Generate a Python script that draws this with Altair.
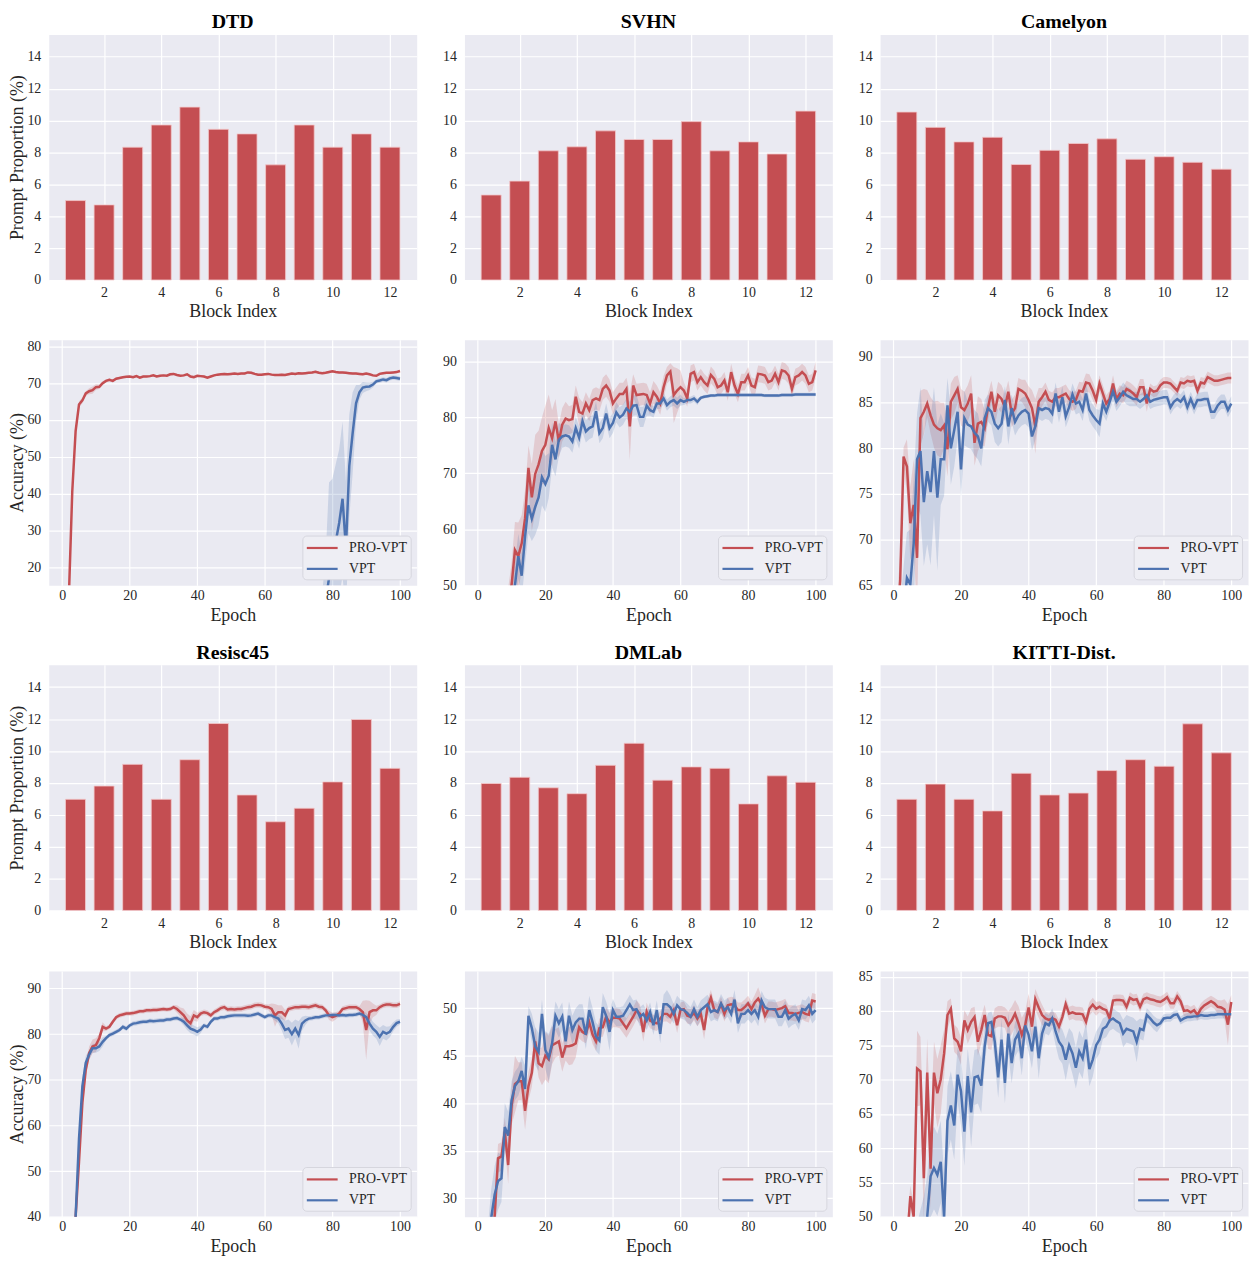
import altair as alt
import pandas as pd

FONT = "Liberation Serif"
RED = "#C44E52"
BLUE = "#4C72B0"
BG = "#EAEAF2"
TXT = "#262626"
W = 370
H = 247

# ---------------- data ----------------
BLOCKS = [1, 2, 3, 4, 5, 6, 7, 8, 9, 10, 11, 12]
BLOCK_TICKS = [2, 4, 6, 8, 10, 12]
BAR_YTICKS = [0, 2, 4, 6, 8, 10, 12, 14]
EPOCHS = list(range(1, 101))
EPOCH_TICKS = [0, 20, 40, 60, 80, 100]
METHODS = ["PRO-VPT", "VPT"]

DTD_BARS = [4.98, 4.71, 8.33, 9.72, 10.84, 9.45, 9.16, 7.22, 9.72, 8.33, 9.16, 8.33]
SVHN_BARS = [5.33, 6.2, 8.1, 8.35, 9.35, 8.81, 8.81, 9.93, 8.1, 8.66, 7.9, 10.59]
CAMELYON_BARS = [10.53, 9.57, 8.66, 8.95, 7.24, 8.13, 8.56, 8.85, 7.57, 7.73, 7.38, 6.95]
RESISC_BARS = [6.97, 7.8, 9.16, 6.97, 9.45, 11.72, 7.24, 5.56, 6.41, 8.06, 11.97, 8.91]
DMLAB_BARS = [7.96, 8.35, 7.69, 7.32, 9.1, 10.48, 8.17, 9.0, 8.91, 6.68, 8.44, 8.04]
KITTI_BARS = [6.97, 7.92, 6.97, 6.24, 8.6, 7.24, 7.36, 8.77, 9.45, 9.04, 11.7, 9.88]

DTD_PRO = [
    3.0, 12.0, 40.5, 57.0, 64.2, 65.3, 67.2, 67.8, 68.1, 68.9,
    69.0, 70.0, 70.6, 70.9, 70.6, 71.2, 71.4, 71.6, 71.7, 71.8,
    71.6, 71.9, 71.5, 71.8, 71.8, 71.9, 72.1, 71.8, 72.0, 72.1,
    72.0, 72.4, 72.5, 72.2, 72.0, 72.1, 72.4, 71.8, 71.6, 72.0,
    71.9, 71.8, 71.5, 71.8, 72.1, 72.3, 72.4, 72.5, 72.4, 72.5,
    72.6, 72.5, 72.6, 72.6, 72.9, 72.8, 72.5, 72.3, 72.3, 72.4,
    72.5, 72.3, 72.2, 72.2, 72.3, 72.2, 72.4, 72.6, 72.5, 72.7,
    72.6, 72.7, 72.8, 72.9, 73.1, 72.8, 72.7, 72.8, 73.0, 73.2,
    73.0, 72.9, 72.9, 72.8, 72.7, 72.6, 72.6, 72.5, 72.4, 72.6,
    72.4, 72.1, 72.0, 72.5, 72.7, 72.8, 72.8, 72.9, 73.0, 73.3]
DTD_PRO_CI = [
    1.0, 1.0, 1.0, 0.8, 0.8, 0.8, 0.6, 0.8, 1.0, 0.8,
    0.6, 0.5, 0.4, 0.4, 0.4, 0.3, 0.3, 0.3, 0.3, 0.3,
    0.3, 0.3, 0.3, 0.3, 0.3, 0.3, 0.3, 0.3, 0.3, 0.3,
    0.3, 0.3, 0.3, 0.3, 0.3, 0.3, 0.3, 0.4, 0.3, 0.3,
    0.3, 0.3, 0.3, 0.3, 0.3, 0.3, 0.3, 0.3, 0.3, 0.3,
    0.3, 0.3, 0.3, 0.3, 0.3, 0.3, 0.3, 0.3, 0.3, 0.3,
    0.3, 0.3, 0.3, 0.3, 0.3, 0.3, 0.3, 0.3, 0.3, 0.3,
    0.3, 0.3, 0.3, 0.3, 0.3, 0.3, 0.3, 0.3, 0.3, 0.3,
    0.3, 0.3, 0.3, 0.3, 0.3, 0.3, 0.3, 0.3, 0.3, 0.3,
    0.3, 0.3, 0.3, 0.3, 0.3, 0.3, 0.3, 0.3, 0.3, 0.3]
DTD_VPT = [
    5.1, 5.3, 5.2, 5.6, 5.4, 5.8, 5.5, 5.9, 6.1, 5.7,
    6.0, 6.2, 5.9, 6.3, 6.1, 6.4, 6.2, 6.0, 6.5, 6.3,
    6.6, 6.4, 6.7, 6.5, 6.3, 6.8, 6.6, 6.9, 6.7, 7.0,
    6.8, 7.1, 6.9, 7.2, 7.0, 6.8, 7.3, 7.1, 7.4, 7.2,
    7.0, 7.5, 7.3, 7.6, 7.4, 7.2, 7.7, 7.5, 7.8, 7.6,
    7.4, 7.9, 7.7, 8.0, 7.8, 7.6, 8.1, 7.9, 8.2, 8.0,
    7.8, 8.3, 8.1, 8.4, 8.2, 8.0, 8.5, 8.3, 8.6, 8.4,
    8.2, 8.7, 8.5, 8.8, 8.6, 8.9, 9.1, 11.0, 17.0, 22.0,
    27.0, 32.0, 38.6, 25.2, 47.5, 56.5, 64.5, 67.5, 68.8, 69.0,
    69.1, 69.6, 70.5, 70.7, 71.0, 70.8, 71.3, 71.5, 71.4, 71.2]
DTD_VPT_CI = [
    4.0, 4.0, 4.0, 4.0, 4.0, 4.0, 4.0, 4.0, 4.0, 4.0,
    4.0, 4.0, 4.0, 4.0, 4.0, 4.0, 4.0, 4.0, 4.0, 4.0,
    4.0, 4.0, 4.0, 4.0, 4.0, 4.0, 4.0, 4.0, 4.0, 4.0,
    4.0, 4.0, 4.0, 4.0, 4.0, 4.0, 4.0, 4.0, 4.0, 4.0,
    4.0, 4.0, 4.0, 4.0, 4.0, 4.0, 4.0, 4.0, 4.0, 4.0,
    4.0, 4.0, 4.0, 4.0, 4.0, 4.0, 4.0, 4.0, 4.0, 4.0,
    4.0, 4.0, 4.0, 4.0, 4.0, 4.0, 4.0, 4.0, 4.0, 4.0,
    4.0, 4.0, 4.0, 4.0, 4.0, 4.0, 4.0, 12.0, 26.0, 22.0,
    21.0, 20.0, 21.0, 18.0, 14.0, 11.0, 5.0, 2.0, 1.5, 1.2,
    1.0, 0.8, 0.6, 0.6, 0.6, 0.6, 0.6, 0.6, 0.6, 0.6]

SVHN_PRO = [
    30.0, 32.0, 34.0, 36.0, 38.0, 40.0, 42.0, 44.0, 46.5, 50.0,
    56.3, 55.2, 57.5, 62.0, 71.0, 65.7, 69.9, 71.6, 74.0, 75.1,
    78.1, 76.3, 79.3, 75.7, 78.7, 79.8, 79.5, 79.7, 83.7, 81.0,
    80.7, 82.5, 81.3, 83.1, 83.4, 83.1, 85.1, 85.7, 84.8, 82.5,
    83.4, 84.2, 84.2, 85.1, 78.4, 85.7, 84.0, 84.1, 84.2, 84.0,
    82.5, 84.5, 83.7, 82.5, 85.4, 87.5, 88.2, 84.0, 84.8, 85.4,
    84.8, 83.4, 87.8, 88.1, 86.3, 87.2, 86.3, 85.7, 87.6, 86.9,
    85.4, 85.7, 86.6, 84.5, 88.1, 85.7, 84.2, 86.3, 86.3, 87.5,
    85.7, 85.4, 87.8, 87.7, 87.5, 86.3, 86.6, 87.8, 86.3, 88.4,
    88.2, 87.5, 85.1, 87.2, 87.5, 88.1, 87.5, 86.0, 86.3, 88.4]
SVHN_PRO_CI = [
    3.0, 3.0, 3.0, 3.0, 3.0, 3.0, 3.0, 3.0, 3.0, 4.0,
    5.0, 6.0, 5.0, 5.0, 4.0, 6.0, 7.0, 6.0, 6.0, 7.0,
    6.0, 5.0, 4.0, 3.0, 3.0, 3.0, 2.5, 2.5, 2.0, 2.5,
    2.0, 2.0, 2.0, 2.0, 2.0, 2.0, 2.0, 2.0, 2.0, 2.0,
    2.0, 2.0, 2.0, 2.0, 6.0, 2.0, 2.0, 2.0, 2.0, 2.0,
    2.0, 2.0, 2.0, 2.0, 2.0, 1.5, 1.5, 5.0, 4.0, 3.0,
    1.5, 1.5, 1.5, 1.5, 1.5, 1.5, 1.5, 1.5, 1.5, 1.5,
    1.5, 1.5, 1.5, 1.5, 1.5, 1.5, 1.5, 1.5, 1.5, 1.5,
    1.5, 1.5, 1.5, 1.5, 1.5, 1.5, 1.5, 1.5, 1.5, 1.5,
    1.5, 1.5, 1.5, 1.5, 1.5, 1.5, 1.5, 1.5, 1.5, 1.5]
SVHN_VPT = [
    30.0, 32.0, 34.0, 36.0, 38.0, 40.0, 42.0, 44.0, 46.0, 48.0,
    50.0, 55.2, 51.7, 58.7, 64.3, 61.9, 64.0, 65.7, 69.3, 68.1,
    69.6, 75.1, 72.5, 76.0, 76.6, 76.8, 76.6, 75.7, 78.1, 76.4,
    79.3, 77.5, 78.1, 78.4, 81.1, 77.2, 78.1, 80.7, 78.1, 79.0,
    80.9, 80.0, 80.5, 81.6, 81.0, 82.1, 82.2, 80.1, 80.1, 82.1,
    81.3, 81.0, 82.5, 82.5, 83.4, 82.2, 82.8, 83.1, 82.5, 83.1,
    82.8, 83.1, 83.1, 83.4, 82.8, 83.5, 83.7, 83.8, 83.9, 83.9,
    84.0, 84.0, 84.0, 84.0, 84.0, 84.0, 84.0, 84.0, 84.0, 84.0,
    84.0, 84.0, 84.0, 84.0, 83.9, 83.9, 83.9, 83.9, 83.9, 84.0,
    84.0, 84.0, 84.0, 84.1, 84.1, 84.1, 84.1, 84.1, 84.1, 84.1]
SVHN_VPT_CI = [
    3.0, 3.0, 3.0, 3.0, 3.0, 3.0, 3.0, 3.0, 3.0, 3.0,
    4.0, 4.0, 4.0, 5.0, 5.0, 4.0, 5.0, 5.0, 5.0, 5.0,
    4.0, 4.0, 3.0, 3.0, 2.0, 2.0, 2.0, 2.0, 2.0, 2.0,
    2.0, 2.0, 2.0, 2.0, 1.8, 1.8, 1.8, 1.8, 1.8, 1.8,
    1.8, 1.8, 1.8, 1.8, 1.8, 1.8, 1.8, 1.8, 1.8, 1.8,
    1.0, 1.0, 1.0, 1.0, 1.0, 1.0, 1.0, 1.0, 1.0, 1.0,
    0.6, 0.6, 0.6, 0.6, 0.6, 0.3, 0.3, 0.3, 0.3, 0.3,
    0.3, 0.3, 0.3, 0.3, 0.3, 0.3, 0.3, 0.3, 0.3, 0.3,
    0.3, 0.3, 0.3, 0.3, 0.3, 0.3, 0.3, 0.3, 0.3, 0.3,
    0.3, 0.3, 0.3, 0.3, 0.3, 0.3, 0.3, 0.3, 0.3, 0.3]

CAM_PRO = [
    60.0, 65.5, 79.1, 78.0, 71.8, 73.8, 68.0, 83.3, 84.0, 84.9,
    83.6, 82.6, 82.2, 82.0, 82.5, 79.9, 85.1, 85.8, 86.5, 84.5,
    84.2, 84.9, 86.0, 80.6, 82.7, 82.9, 82.2, 84.5, 86.2, 84.0,
    85.8, 85.4, 84.5, 86.2, 83.8, 84.4, 86.5, 86.3, 86.0, 85.3,
    84.4, 82.4, 85.1, 85.6, 86.2, 85.3, 85.1, 85.6, 85.6, 85.8,
    86.0, 85.4, 85.1, 85.3, 86.3, 86.2, 87.2, 87.1, 86.3, 85.3,
    87.1, 86.0, 84.9, 85.4, 87.1, 85.4, 86.0, 85.8, 86.5, 86.3,
    86.0, 85.6, 86.7, 86.7, 84.9, 86.5, 86.2, 86.3, 86.9, 87.2,
    87.2, 87.1, 86.7, 86.3, 87.2, 87.1, 87.4, 87.3, 87.4, 86.3,
    87.2, 87.1, 87.8, 87.6, 87.4, 87.4, 87.5, 87.6, 87.7, 87.7]
CAM_PRO_CI = [
    3.0, 3.0, 1.0, 3.0, 4.0, 5.0, 6.0, 3.0, 2.5, 1.5,
    2.0, 2.5, 3.0, 3.0, 2.5, 3.0, 2.0, 2.0, 1.5, 2.0,
    2.0, 2.0, 2.0, 2.5, 3.0, 2.5, 2.0, 1.5, 1.2, 1.5,
    1.5, 1.5, 1.5, 1.2, 1.5, 1.5, 1.2, 1.2, 1.5, 1.5,
    2.0, 3.0, 1.5, 1.0, 1.0, 1.0, 1.0, 1.0, 1.0, 1.0,
    1.0, 1.0, 1.0, 1.0, 1.0, 1.0, 1.0, 1.0, 1.0, 1.0,
    0.9, 0.9, 0.9, 0.9, 0.9, 0.9, 0.9, 0.9, 0.9, 0.9,
    0.9, 0.9, 0.9, 0.9, 0.9, 0.6, 0.6, 0.6, 0.6, 0.6,
    0.6, 0.6, 0.6, 0.6, 0.6, 0.6, 0.6, 0.6, 0.6, 0.6,
    0.6, 0.6, 0.6, 0.6, 0.6, 0.6, 0.6, 0.6, 0.6, 0.6]
CAM_VPT = [
    55.0, 58.0, 62.0, 65.8, 65.1, 69.6, 78.8, 79.7, 74.1, 77.5,
    75.2, 79.7, 74.6, 78.8, 78.8, 84.7, 80.0, 82.0, 84.0, 77.7,
    83.3, 82.6, 82.4, 81.7, 81.3, 80.0, 83.3, 84.4, 84.0, 82.7,
    82.2, 82.7, 85.3, 82.4, 84.4, 82.9, 83.6, 84.0, 84.2, 83.8,
    81.3, 82.4, 84.4, 84.2, 84.4, 84.3, 83.8, 86.0, 84.0, 85.6,
    83.5, 84.5, 85.9, 84.9, 85.1, 84.2, 86.0, 84.2, 83.6, 83.1,
    82.7, 84.9, 84.0, 85.1, 86.2, 85.1, 85.6, 86.2, 85.8, 85.6,
    85.4, 85.4, 85.1, 85.4, 85.8, 85.1, 85.3, 85.4, 85.5, 85.6,
    85.6, 84.5, 85.1, 85.4, 85.1, 85.6, 84.5, 85.4, 84.5, 85.3,
    85.3, 85.4, 85.4, 84.0, 84.0, 84.7, 85.1, 85.1, 84.2, 84.9]
CAM_VPT_CI = [
    5.0, 5.0, 5.0, 5.0, 6.0, 7.0, 5.0, 7.0, 7.0, 8.0,
    8.0, 7.0, 8.0, 5.0, 4.0, 3.0, 4.0, 4.0, 3.0, 3.0,
    3.0, 2.5, 2.5, 2.5, 2.5, 2.0, 2.0, 1.5, 1.5, 2.0,
    2.0, 2.0, 1.5, 2.0, 1.5, 1.5, 1.5, 1.5, 1.5, 1.5,
    1.5, 1.5, 1.2, 1.2, 1.2, 1.2, 1.2, 1.2, 1.2, 1.2,
    1.2, 1.2, 1.2, 1.2, 1.2, 1.2, 1.2, 1.2, 1.2, 1.2,
    1.5, 1.2, 1.0, 1.0, 1.0, 1.0, 1.0, 1.0, 1.0, 1.0,
    0.8, 0.8, 0.8, 0.8, 0.8, 0.8, 0.8, 0.8, 0.8, 0.8,
    0.8, 0.8, 0.8, 0.8, 0.8, 0.8, 0.8, 0.8, 0.8, 0.8,
    0.8, 0.8, 0.8, 0.8, 0.8, 0.8, 0.8, 0.8, 0.8, 0.8]

RES_PRO = [
    20.0, 25.0, 32.0, 40.0, 52.0, 65.0, 72.2, 75.8, 77.3, 77.6,
    79.1, 81.6, 81.2, 81.6, 82.7, 83.7, 84.1, 84.3, 84.5, 84.5,
    84.6, 84.8, 85.0, 85.0, 85.2, 85.2, 85.3, 85.3, 85.4, 85.5,
    85.4, 85.5, 85.9, 85.5, 84.8, 84.1, 83.0, 82.4, 84.1, 83.7,
    84.5, 84.8, 84.6, 84.1, 84.8, 85.2, 85.7, 85.9, 85.4, 85.5,
    85.4, 85.5, 85.5, 85.7, 85.9, 86.0, 86.3, 86.4, 86.3, 86.0,
    85.9, 85.5, 84.1, 84.8, 84.8, 84.1, 85.5, 85.7, 85.9, 85.9,
    86.0, 86.0, 85.9, 86.1, 86.3, 86.0, 85.9, 85.2, 84.1, 83.7,
    84.0, 84.5, 85.5, 85.7, 85.9, 85.9, 85.9, 85.5, 84.8, 80.9,
    84.8, 85.2, 85.2, 85.9, 86.3, 86.5, 86.5, 86.3, 86.3, 86.6]
RES_PRO_CI = [
    2.0, 2.0, 2.0, 2.0, 2.0, 2.0, 1.5, 1.5, 1.5, 1.5,
    1.0, 1.0, 0.5, 0.5, 0.5, 0.5, 0.5, 0.5, 0.5, 0.5,
    0.5, 0.5, 0.5, 0.5, 0.5, 0.5, 0.5, 0.5, 0.5, 0.5,
    0.5, 0.5, 0.5, 0.8, 1.0, 1.5, 1.5, 1.5, 1.2, 1.0,
    0.6, 0.6, 0.6, 0.6, 0.6, 0.6, 0.6, 0.6, 0.6, 0.6,
    0.6, 0.6, 0.6, 0.6, 0.6, 0.6, 0.6, 0.6, 0.6, 0.6,
    0.6, 1.2, 2.5, 1.5, 1.5, 1.2, 0.6, 0.6, 0.6, 0.6,
    0.6, 0.6, 0.6, 0.6, 0.6, 0.6, 0.6, 0.6, 1.0, 1.0,
    0.8, 0.6, 0.6, 0.6, 0.6, 0.6, 0.6, 0.6, 2.5, 6.5,
    2.5, 1.5, 1.0, 0.6, 0.6, 0.6, 0.6, 0.6, 0.6, 0.6]
RES_VPT = [
    18.0, 24.0, 31.0, 40.0, 57.1, 68.6, 73.7, 75.5, 76.9, 76.9,
    77.3, 78.3, 79.1, 79.8, 80.1, 80.5, 80.9, 81.6, 81.2, 81.9,
    82.3, 82.4, 82.6, 82.7, 82.7, 82.9, 82.8, 82.9, 83.0, 83.0,
    83.2, 83.2, 83.4, 83.5, 83.2, 82.7, 81.9, 81.2, 80.9, 80.5,
    81.0, 81.9, 81.6, 82.7, 83.4, 83.4, 83.7, 83.7, 83.9, 84.0,
    84.1, 84.1, 84.1, 84.1, 84.0, 84.1, 84.3, 84.5, 84.1, 83.7,
    84.1, 84.1, 83.7, 83.4, 82.3, 80.9, 81.2, 80.0, 81.2, 79.8,
    82.3, 83.0, 83.4, 83.5, 83.7, 83.7, 83.9, 84.1, 84.1, 84.2,
    84.2, 84.1, 84.2, 84.1, 84.2, 84.2, 84.3, 84.5, 84.2, 83.7,
    82.3, 81.2, 80.5, 79.4, 80.5, 80.1, 80.5, 81.6, 82.4, 82.7]
RES_VPT_CI = [
    2.0, 2.0, 2.0, 2.0, 2.0, 2.0, 1.5, 1.0, 1.0, 1.0,
    1.0, 1.0, 0.5, 0.5, 0.5, 0.5, 0.5, 0.5, 0.5, 0.5,
    0.5, 0.5, 0.5, 0.5, 0.5, 0.5, 0.5, 0.5, 0.5, 0.5,
    0.5, 0.5, 0.5, 0.5, 0.5, 0.8, 1.0, 1.0, 1.0, 1.0,
    0.8, 0.5, 0.5, 0.5, 0.5, 0.5, 0.5, 0.5, 0.5, 0.5,
    0.5, 0.5, 0.5, 0.5, 0.5, 0.5, 0.5, 0.5, 0.5, 0.5,
    0.5, 0.5, 0.8, 1.0, 1.5, 2.0, 2.0, 2.5, 2.0, 3.0,
    1.5, 1.0, 0.5, 0.5, 0.5, 0.5, 0.5, 0.5, 0.5, 0.5,
    0.5, 0.5, 0.5, 0.5, 0.5, 0.5, 0.5, 0.5, 0.8, 1.0,
    1.5, 1.5, 1.5, 2.0, 1.5, 1.5, 1.2, 1.0, 0.8, 0.6]

DML_PRO = [
    20.0, 22.0, 24.0, 26.0, 28.1, 34.2, 34.4, 37.0, 33.5, 39.7,
    42.0, 42.3, 42.3, 39.2, 41.8, 43.2, 46.5, 44.2, 43.9, 45.0,
    44.6, 46.1, 46.3, 46.5, 44.8, 46.0, 46.0, 46.1, 46.3, 48.0,
    47.5, 47.3, 48.5, 47.2, 46.5, 47.9, 48.0, 49.1, 48.5, 49.0,
    49.0, 48.9, 48.4, 47.9, 48.5, 49.1, 49.8, 49.4, 47.5, 49.6,
    48.7, 48.5, 48.4, 48.9, 49.4, 49.4, 49.1, 49.8, 48.2, 49.8,
    49.9, 49.2, 49.1, 49.5, 48.9, 49.4, 47.7, 50.1, 51.1, 49.8,
    49.6, 50.4, 49.4, 50.3, 50.4, 50.3, 49.8, 49.8, 50.1, 50.5,
    49.9, 50.6, 51.0, 50.4, 49.2, 49.9, 49.9, 49.8, 49.9, 50.0,
    50.2, 49.5, 49.5, 49.4, 49.5, 49.6, 49.4, 49.3, 50.8, 50.7]
DML_PRO_CI = [
    2.0, 2.0, 2.0, 2.0, 2.0, 1.5, 1.5, 1.5, 2.0, 2.0,
    3.0, 2.0, 2.0, 2.0, 1.5, 1.5, 1.5, 1.5, 2.0, 2.5,
    2.5, 2.0, 1.5, 1.5, 1.5, 1.5, 2.0, 2.0, 1.5, 1.2,
    1.0, 1.0, 1.0, 1.0, 1.0, 1.0, 1.0, 1.0, 1.0, 1.0,
    1.0, 1.0, 1.0, 1.0, 1.0, 1.0, 1.0, 1.0, 1.0, 1.0,
    0.8, 0.8, 0.8, 0.8, 0.8, 0.8, 0.8, 0.8, 0.8, 0.8,
    0.8, 0.8, 0.8, 0.8, 0.8, 0.8, 1.0, 0.8, 0.8, 0.8,
    0.8, 0.8, 0.8, 0.8, 0.8, 0.8, 0.8, 0.8, 0.8, 0.8,
    0.8, 0.8, 1.2, 0.8, 0.8, 0.8, 0.8, 0.8, 0.8, 0.8,
    0.8, 0.8, 0.8, 0.8, 0.8, 0.8, 0.8, 0.8, 0.8, 0.8]
DML_VPT = [
    18.0, 21.0, 24.0, 28.0, 30.4, 31.8, 32.1, 37.5, 36.6, 40.3,
    41.8, 42.3, 43.4, 41.5, 49.2, 47.9, 46.0, 45.4, 49.4, 45.6,
    44.8, 46.3, 49.2, 48.4, 49.1, 46.5, 49.2, 47.7, 48.5, 48.9,
    48.9, 47.2, 49.8, 48.5, 47.0, 46.6, 50.1, 49.2, 47.5, 49.8,
    49.1, 49.1, 49.2, 49.8, 50.4, 49.8, 49.9, 49.1, 49.4, 48.7,
    49.6, 48.2, 49.8, 47.3, 50.4, 50.4, 50.1, 49.4, 50.3, 49.9,
    49.8, 49.5, 49.1, 49.9, 49.1, 49.8, 50.1, 50.4, 49.6, 49.8,
    49.6, 50.5, 49.8, 50.1, 49.4, 50.9, 48.4, 49.4, 49.4, 49.8,
    49.4, 49.8, 49.1, 50.8, 50.1, 49.9, 49.9, 49.9, 49.1, 49.1,
    49.8, 48.9, 49.2, 49.4, 48.7, 49.9, 49.8, 50.3, 49.4, 49.8]
DML_VPT_CI = [
    3.0, 3.0, 3.0, 3.0, 3.0, 3.0, 2.5, 2.5, 2.5, 2.0,
    1.5, 1.5, 1.5, 2.5, 1.0, 1.5, 2.0, 2.0, 1.5, 2.0,
    2.5, 2.0, 1.5, 1.5, 1.5, 1.5, 1.5, 1.5, 1.5, 1.5,
    1.5, 1.5, 1.5, 1.5, 1.5, 1.5, 1.5, 1.5, 2.0, 1.2,
    1.0, 1.0, 1.0, 1.0, 1.0, 1.0, 1.0, 1.0, 1.0, 1.0,
    1.0, 1.0, 1.0, 1.0, 1.0, 1.5, 1.2, 1.0, 1.0, 1.0,
    1.0, 1.0, 1.0, 1.0, 1.0, 1.0, 1.0, 1.0, 1.0, 1.0,
    1.0, 1.0, 1.0, 1.0, 1.0, 1.0, 1.0, 1.0, 1.0, 1.0,
    1.0, 1.0, 1.0, 1.0, 1.0, 1.0, 1.0, 1.0, 1.0, 1.0,
    1.0, 1.0, 1.0, 1.0, 1.0, 1.0, 1.0, 1.0, 1.0, 1.0]

KIT_PRO = [
    38.0, 40.0, 42.0, 46.0, 53.0, 50.0, 71.6, 71.2, 55.6, 71.0,
    57.0, 71.0, 68.0, 70.0, 73.8, 79.4, 80.3, 76.0, 75.5, 74.1,
    78.6, 77.2, 78.4, 79.1, 75.5, 77.2, 79.4, 76.5, 76.3, 78.9,
    79.2, 79.2, 79.0, 77.9, 78.6, 79.6, 78.2, 76.5, 77.9, 80.5,
    77.7, 81.7, 80.5, 79.4, 78.9, 78.7, 78.9, 78.7, 77.7, 79.1,
    81.0, 79.6, 79.8, 79.6, 79.6, 79.5, 78.4, 80.3, 80.9, 80.3,
    80.6, 80.3, 80.1, 78.9, 81.5, 81.6, 81.6, 81.5, 80.6, 81.9,
    81.6, 81.7, 80.6, 81.7, 81.9, 81.7, 81.6, 81.4, 81.3, 81.6,
    82.0, 81.1, 81.1, 82.1, 81.4, 80.0, 80.1, 79.8, 80.1, 79.4,
    80.3, 80.8, 81.1, 81.4, 81.1, 80.6, 80.5, 80.2, 78.0, 81.3]
KIT_PRO_CI = [
    3.0, 3.0, 3.0, 3.0, 1.5, 2.0, 5.5, 5.0, 6.0, 5.0,
    6.0, 4.5, 5.0, 5.0, 3.5, 2.0, 1.5, 2.0, 2.0, 2.0,
    1.5, 2.0, 2.0, 1.5, 2.0, 2.0, 1.5, 2.0, 2.0, 1.5,
    1.5, 1.5, 1.5, 2.0, 2.0, 2.0, 2.5, 2.5, 2.0, 2.0,
    2.0, 1.5, 1.5, 1.5, 1.0, 1.0, 1.0, 1.0, 1.0, 1.0,
    1.0, 1.0, 1.0, 1.0, 1.0, 1.0, 1.0, 1.0, 1.0, 1.0,
    0.8, 0.8, 0.8, 0.8, 0.8, 0.8, 0.8, 0.8, 0.8, 0.8,
    0.8, 0.8, 0.8, 0.8, 0.8, 0.8, 0.8, 0.8, 0.8, 0.8,
    0.8, 0.8, 0.8, 0.8, 0.8, 0.8, 0.8, 0.8, 0.8, 0.8,
    0.8, 0.8, 0.8, 0.8, 0.8, 1.0, 1.0, 1.5, 3.0, 1.0]
KIT_VPT = [
    30.0, 33.0, 36.0, 38.0, 40.0, 42.0, 44.0, 46.0, 48.0, 50.0,
    55.9, 57.1, 56.1, 58.0, 50.0, 64.0, 66.2, 63.3, 70.7, 68.3,
    62.4, 70.5, 65.2, 70.3, 70.5, 69.1, 74.8, 78.2, 78.4, 75.5,
    70.3, 75.8, 69.5, 76.7, 72.4, 75.8, 76.7, 73.1, 77.9, 76.5,
    74.1, 77.7, 73.1, 76.7, 78.2, 77.9, 78.9, 77.0, 75.5, 74.8,
    72.9, 75.0, 73.8, 71.7, 74.1, 73.1, 75.8, 71.5, 72.9, 75.0,
    75.8, 77.4, 77.7, 78.6, 78.9, 78.5, 78.2, 76.7, 77.4, 77.2,
    77.0, 75.5, 77.4, 77.2, 79.4, 78.9, 78.3, 77.9, 78.2, 78.9,
    79.0, 79.0, 79.4, 79.5, 78.6, 78.9, 79.1, 79.1, 79.2, 79.2,
    79.4, 79.3, 79.3, 79.4, 79.4, 79.5, 79.5, 79.5, 79.5, 79.5]
KIT_VPT_CI = [
    5.0, 5.0, 5.0, 5.0, 5.0, 5.0, 5.0, 5.0, 5.0, 6.0,
    6.0, 6.0, 6.0, 6.0, 6.0, 5.0, 5.0, 5.0, 4.0, 5.0,
    5.0, 4.0, 5.0, 4.0, 4.0, 4.0, 3.0, 1.5, 1.5, 3.0,
    3.0, 3.0, 3.0, 3.0, 3.0, 2.5, 2.5, 2.5, 2.0, 2.5,
    2.5, 2.0, 3.0, 2.0, 1.5, 1.5, 1.5, 2.0, 2.5, 2.5,
    3.0, 2.5, 3.0, 3.0, 3.0, 3.0, 2.5, 2.5, 2.5, 2.0,
    2.0, 1.5, 1.5, 1.5, 1.5, 1.5, 1.5, 2.0, 2.0, 2.0,
    2.0, 3.0, 1.5, 1.5, 1.0, 1.0, 1.0, 1.0, 0.6, 0.6,
    0.6, 0.6, 0.6, 0.6, 0.6, 0.6, 0.6, 0.6, 0.6, 0.6,
    0.6, 0.6, 0.6, 0.6, 0.6, 0.6, 0.6, 0.6, 0.6, 0.6]

LABEL_STYLE = dict(labelFont=FONT, labelFontSize=14, labelColor=TXT,
                   titleFont=FONT, titleFontSize=18, titleFontWeight="normal",
                   titleColor=TXT, grid=True, gridColor="white", gridWidth=1.2,
                   domain=False, ticks=False, labelFlush=False)


def y_axis(ticks, ytitle):
    kw = dict(LABEL_STYLE, values=ticks, labelPadding=8, titlePadding=0)
    kw["title"] = ytitle if ytitle else None
    return alt.Axis(**kw)


# ---------------- panels ----------------
def bar_panel(title, values, ytitle):
    df = pd.DataFrame({"block": BLOCKS, "prop": values})
    return (
        alt.Chart(df)
        .transform_calculate(x0="datum.block - 0.35", x1="datum.block + 0.35", base="0")
        .mark_bar(color=RED, stroke="#F2C9CB", strokeWidth=0.8)
        .encode(
            x=alt.X("x0:Q",
                    scale=alt.Scale(domain=[0.065, 12.935], nice=False, zero=False),
                    axis=alt.Axis(**dict(LABEL_STYLE, values=BLOCK_TICKS,
                                         title="Block Index", labelPadding=6,
                                         titlePadding=3))),
            x2="x1:Q",
            y=alt.Y("prop:Q", scale=alt.Scale(domain=[0, 15.4], nice=False),
                    axis=y_axis(BAR_YTICKS, ytitle)),
            y2="base:Q",
        )
        .properties(width=W, height=H, title=alt.TitleParams(title))
    )


def line_panel(pro, pro_ci, vpt, vpt_ci, ydom, yticks, ytitle):
    rows = []
    for name, mean, ci in (("PRO-VPT", pro, pro_ci), ("VPT", vpt, vpt_ci)):
        for e, m, c in zip(EPOCHS, mean, ci):
            rows.append({"epoch": e, "acc": m, "lo": m - c, "hi": m + c, "method": name})
    df = pd.DataFrame(rows)
    xenc = alt.X("epoch:Q",
                 scale=alt.Scale(domain=[-3.95, 104.95], nice=False, zero=False),
                 axis=alt.Axis(**dict(LABEL_STYLE, values=EPOCH_TICKS, title="Epoch",
                                      labelPadding=3, titlePadding=4)))
    yscale = alt.Scale(domain=ydom, nice=False, zero=False)
    base = alt.Chart(df)
    bands = []
    for name, col in ((METHODS[0], RED), (METHODS[1], BLUE)):
        bands.append(
            base.transform_filter(alt.datum.method == name)
            .mark_area(color=col, opacity=0.2, clip=True)
            .encode(
                x=xenc,
                y=alt.Y("lo:Q", scale=yscale, axis=y_axis(yticks, ytitle)),
                y2="hi:Q",
            )
        )
    line = base.mark_line(strokeWidth=2.5, clip=True).encode(
        x=xenc,
        y=alt.Y("acc:Q", scale=yscale, axis=y_axis(yticks, ytitle)),
        color=alt.Color(
            "method:N", scale=alt.Scale(domain=METHODS, range=[RED, BLUE]),
            legend=alt.Legend(
                title=None, orient="bottom-right", offset=6,
                fillColor="#EEEEF4", strokeColor="#D6D6DE", cornerRadius=4, padding=3,
                symbolType="M-1,0L2.875,0", symbolSize=256, symbolStrokeWidth=2.2,
                labelFont=FONT, labelFontSize=14, labelColor=TXT,
                labelOffset=25, rowPadding=4,
            ),
        ),
    )
    return alt.layer(*bands, line).properties(width=W, height=H)


def row(*charts):
    return (
        alt.hconcat(*charts, spacing=48, bounds="flush")
        .resolve_scale(color="independent")
        .resolve_legend(color="independent")
    )


row1 = row(
    bar_panel("DTD", DTD_BARS, "Prompt Proportion (%)"),
    bar_panel("SVHN", SVHN_BARS, ""),
    bar_panel("Camelyon", CAMELYON_BARS, ""),
)
row2 = row(
    line_panel(DTD_PRO, DTD_PRO_CI, DTD_VPT, DTD_VPT_CI, [15.1, 81.8],
               [20, 30, 40, 50, 60, 70, 80], "Accuracy (%)"),
    line_panel(SVHN_PRO, SVHN_PRO_CI, SVHN_VPT, SVHN_VPT_CI, [50, 93.9],
               [50, 60, 70, 80, 90], ""),
    line_panel(CAM_PRO, CAM_PRO_CI, CAM_VPT, CAM_VPT_CI, [65, 91.9],
               [65, 70, 75, 80, 85, 90], ""),
)
row3 = row(
    bar_panel("Resisc45", RESISC_BARS, "Prompt Proportion (%)"),
    bar_panel("DMLab", DMLAB_BARS, ""),
    bar_panel("KITTI-Dist.", KITTI_BARS, ""),
)
row4 = row(
    line_panel(RES_PRO, RES_PRO_CI, RES_VPT, RES_VPT_CI, [40, 93.8],
               [40, 50, 60, 70, 80, 90], "Accuracy (%)"),
    line_panel(DML_PRO, DML_PRO_CI, DML_VPT, DML_VPT_CI, [28.06, 53.9],
               [30, 35, 40, 45, 50], ""),
    line_panel(KIT_PRO, KIT_PRO_CI, KIT_VPT, KIT_VPT_CI, [50, 85.8],
               [50, 55, 60, 65, 70, 75, 80, 85], ""),
)

chart = (
    alt.vconcat(row1, row2, row3, row4, spacing=17)
    .resolve_scale(color="independent")
    .resolve_legend(color="independent")
    .properties(padding=0, background="white")
    .configure_view(fill=BG, stroke="transparent")
    .configure_axis(
        labelFont=FONT, labelFontSize=14, labelColor=TXT,
        titleFont=FONT, titleFontSize=18, titleFontWeight="normal", titleColor=TXT,
    )
    .configure_title(font=FONT, fontSize=20, fontWeight="bold", color="black",
                     offset=2, anchor="middle")
)

chart.save("out.html", embed_options={"renderer": "svg", "actions": False})
